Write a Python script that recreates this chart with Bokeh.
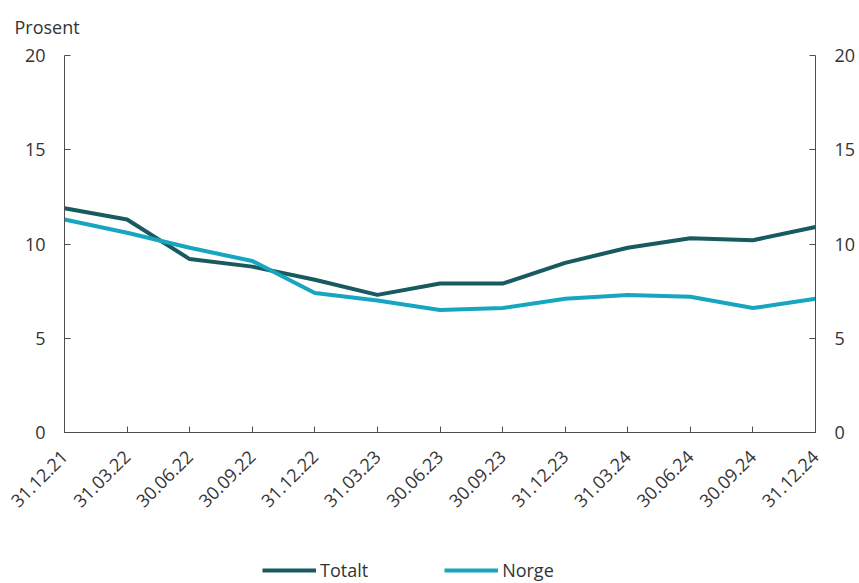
import math
from bokeh.plotting import figure
from bokeh.layouts import column
from bokeh.models import (Range1d, LinearAxis, FixedTicker, Legend, LegendItem,
                          ColumnDataSource, Title)
from bokeh.embed import file_html
from bokeh.resources import INLINE

dates = ["31.12.21", "31.03.22", "30.06.22", "30.09.22", "31.12.22", "31.03.23",
         "30.06.23", "30.09.23", "31.12.23", "31.03.24", "30.06.24", "30.09.24",
         "31.12.24"]
totalt = [11.9, 11.3, 9.2, 8.8, 8.1, 7.3, 7.9, 7.9, 9.0, 9.8, 10.3, 10.2, 10.9]
norge = [11.3, 10.6, 9.8, 9.1, 7.4, 7.0, 6.5, 6.6, 7.1, 7.3, 7.2, 6.6, 7.1]
y_ticks = [0, 5, 10, 15, 20]
series_names = ["Totalt", "Norge"]

FONT = "Open Sans"
TXT = "#333333"
AX = "#4d4d4d"
C_TOT = "#175a60"
C_NOR = "#16a6c0"
FS = "18px"

FW, FH = 751, 377

xs = list(range(len(dates)))
src = ColumnDataSource(dict(x=xs, totalt=totalt, norge=norge))

p = figure(frame_width=FW, frame_height=FH, output_backend="svg", toolbar_location=None,
           x_range=Range1d(0, len(dates) - 1), y_range=Range1d(0, 20),
           min_border_left=64, min_border_right=44, min_border_top=55,
           min_border_bottom=100, y_axis_location=None)
p.outline_line_color = None
p.grid.visible = False
p.background_fill_color = "white"
p.border_fill_color = "white"

p.line("x", "totalt", source=src, line_color=C_TOT, line_width=4)
p.line("x", "norge", source=src, line_color=C_NOR, line_width=4)

def style_axis(ax):
    ax.axis_line_color = AX
    ax.axis_line_width = 1
    ax.major_tick_line_color = AX
    ax.major_tick_in = 6
    ax.major_tick_out = 0
    ax.minor_tick_line_color = None
    ax.major_label_text_font = FONT
    ax.major_label_text_color = TXT
    ax.major_label_text_font_size = FS

left = LinearAxis(ticker=FixedTicker(ticks=y_ticks))
right = LinearAxis(ticker=FixedTicker(ticks=y_ticks))
for ax in (left, right):
    style_axis(ax)
    ax.major_label_standoff = 19
p.add_layout(left, "left")
p.add_layout(right, "right")

xa = p.xaxis[0]
style_axis(xa)
xa.ticker = FixedTicker(ticks=xs)
xa.major_label_overrides = {i: d for i, d in enumerate(dates)}
xa.major_label_orientation = math.pi / 4
xa.major_label_standoff = 21

p.add_layout(Title(text="Prosent", text_font=FONT, text_font_size=FS,
                   text_color=TXT, text_font_style="normal", offset=-50,
                   standoff=29, vertical_align="top"), "above")

# legend strip below the chart
LH = 51
lg = figure(width=FW + 108, height=LH, output_backend="svg", toolbar_location=None,
            x_range=Range1d(0, 1), y_range=Range1d(0, 1), min_border=0,
            x_axis_location=None, y_axis_location=None)
lg.outline_line_color = None
lg.grid.visible = False
lg.border_fill_color = "white"
g1 = lg.line(x=[5, 6], y=[5, 5], line_color=C_TOT, line_width=4)
g2 = lg.line(x=[5, 6], y=[5, 5], line_color=C_NOR, line_width=4)
legend = Legend(items=[LegendItem(label=series_names[0], renderers=[g1]),
                       LegendItem(label=series_names[1], renderers=[g2])],
                orientation="horizontal", location=(198, 1),
                label_text_font=FONT, label_text_font_size=FS,
                label_text_color=TXT, glyph_width=54, glyph_height=14,
                label_standoff=4, spacing=76, border_line_color=None,
                background_fill_alpha=0, padding=0, margin=0)
lg.add_layout(legend, "center")

layout = column(p, lg, spacing=0)
open("out.html", "w").write(file_html(layout, INLINE))
